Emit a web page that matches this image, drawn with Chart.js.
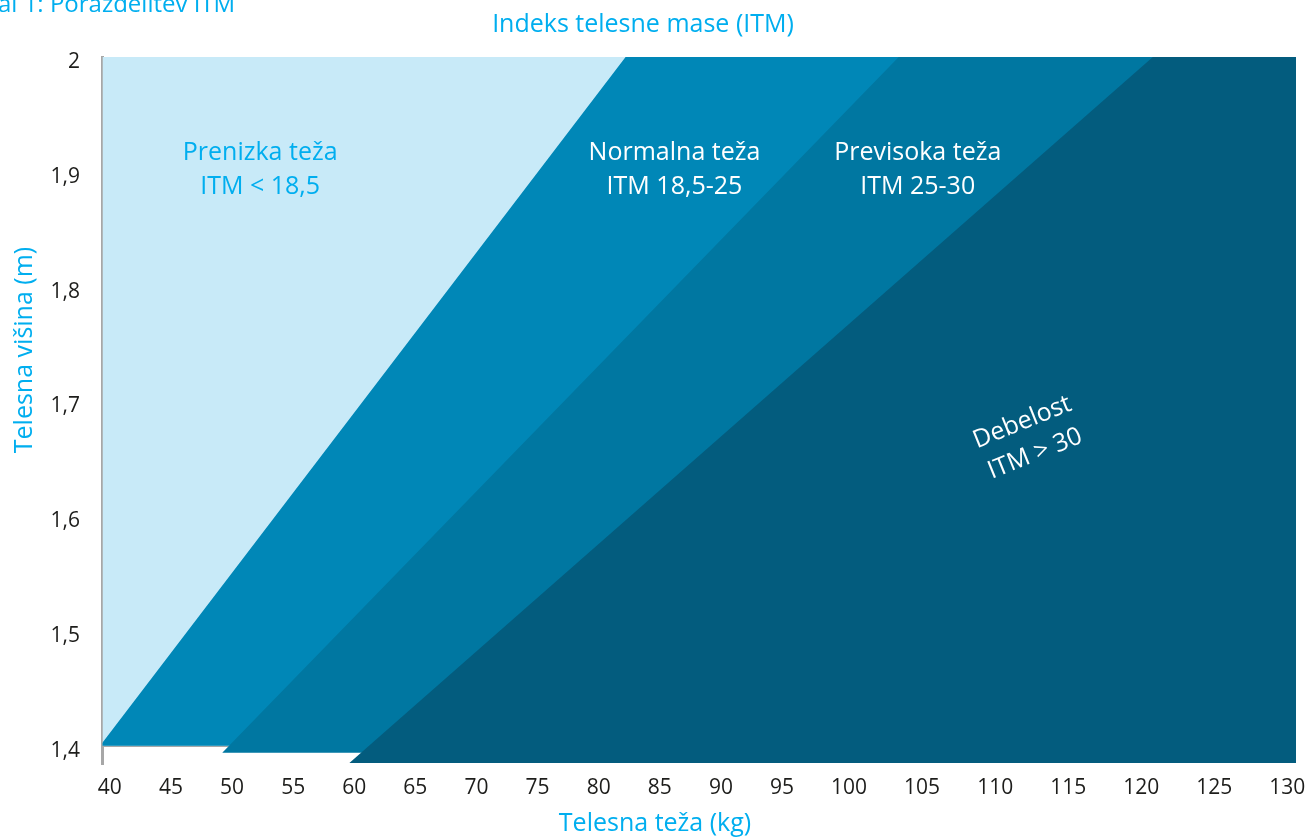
<!DOCTYPE html>
<html>
<head>
<meta charset="utf-8">
<title>Indeks telesne mase (ITM)</title>
<script src="https://cdn.jsdelivr.net/npm/chart.js@4.4.1/dist/chart.umd.min.js"></script>
<style>
    html, body { margin: 0; background: #fff; }
    canvas { display: block; }
</style>
</head>
<body>
<canvas id="itm-chart" width="1306" height="837"></canvas>
<script>
// tick labels
const weightTicks = [40, 45, 50, 55, 60, 65, 70, 75, 80, 85, 90, 95, 100, 105, 110, 115, 120, 125, 130];
const heightTicks = [1.4, 1.5, 1.6, 1.7, 1.8, 1.9, 2];

// zones, from light to dark
const zoneNames = ['Prenizka teža', 'Normalna teža', 'Previsoka teža', 'Debelost'];
const zoneRanges = ['ITM < 18,5', 'ITM 18,5-25', 'ITM 25-30', 'ITM > 30'];

// left edge of every zone: weight (kg) at 2 m, weight at the lower edge, and that lower edge (m)
const zoneTopKg = [39.4, 82.2, 103.4, 120.8];
const zoneBottomKg = [39.4, 39.2, 49.2, 59.6];
const zoneBottomM = [1.4, 1.4, 1.394, 1.385];

const WEIGHT_MIN = 39.4, WEIGHT_MAX = 130.6;
const HEIGHT_MIN = 1.385, HEIGHT_MAX = 2;

const cyan = '#00aeef';
const axisGray = '#a7a7a7';
const zoneColors = ['#c8eaf8', '#0087b7', '#0077a1', '#035c7e'];
const zoneTextColors = [cyan, '#fff', '#fff', '#fff'];

Chart.defaults.font.family = '"Open Sans", sans-serif';

// linear axis whose values past `breakAt` get `stretch` times more room
class StretchedLinearScale extends Chart.LinearScale {
    static id = 'stretchedLinear';
    static defaults = {...Chart.LinearScale.defaults, breakAt: 100, stretch: 1};

    _units(v) {
        const {breakAt, stretch} = this.options;
        return v <= breakAt ? v - this.min : (breakAt - this.min) + (v - breakAt) * stretch;
    }

    getPixelForValue(value) {
        if (value === null) return NaN;
        return this.getPixelForDecimal(this._units(value) / this._units(this.max));
    }

    getValueForPixel(pixel) {
        const {breakAt, stretch} = this.options;
        const units = this.getDecimalForPixel(pixel) * this._units(this.max);
        const left = breakAt - this.min;
        return units <= left ? this.min + units : breakAt + (units - left) / stretch;
    }
}
Chart.register(StretchedLinearScale);

const zoneDatasets = zoneNames.map((name, i) => ({
    label: name,
    data: [
        {x: zoneTopKg[i], y: HEIGHT_MAX},
        {x: WEIGHT_MAX, y: HEIGHT_MAX},
        {x: WEIGHT_MAX, y: zoneBottomM[i]},
        {x: zoneBottomKg[i], y: zoneBottomM[i]},
    ],
    fill: 'shape',
    backgroundColor: zoneColors[i],
    borderColor: 'transparent',
    borderWidth: 0,
    pointRadius: 0,
    pointHoverRadius: 0,
    order: zoneNames.length - i,
}));

// captions, axis titles and zone names
const figureText = {
    id: 'figureText',
    afterDatasetsDraw(chart, args, opts) {
        const {ctx, scales: {x, y}} = chart;
        ctx.save();
        ctx.font = opts.zoneFont;
        ctx.textAlign = 'center';
        ctx.textBaseline = 'middle';
        zoneNames.forEach((name, i) => {
            const [kg, m] = opts.zoneAnchors[i];
            ctx.save();
            ctx.translate(x.getPixelForValue(kg), y.getPixelForValue(m));
            ctx.rotate(opts.zoneRotation[i] * Math.PI / 180);
            ctx.fillStyle = zoneTextColors[i];
            ctx.fillText(name, 0, -opts.zoneLineGap / 2);
            ctx.fillText(zoneRanges[i], 0, opts.zoneLineGap / 2);
            ctx.restore();
        });
        ctx.restore();
    },
    afterDraw(chart, args, opts) {
        const ctx = chart.ctx;
        ctx.save();
        ctx.fillStyle = cyan;
        ctx.textBaseline = 'alphabetic';

        ctx.font = opts.captionFont;
        ctx.textAlign = 'left';
        ctx.fillText(opts.caption, opts.captionAt[0], opts.captionAt[1]);

        ctx.font = opts.titleFont;
        ctx.textAlign = 'center';
        ctx.fillText(opts.title, opts.titleAt[0], opts.titleAt[1]);
        ctx.fillText(opts.xTitle, opts.xTitleAt[0], opts.xTitleAt[1]);

        ctx.translate(opts.yTitleAt[0], opts.yTitleAt[1]);
        ctx.rotate(-Math.PI / 2);
        ctx.fillText(opts.yTitle, 0, 0);
        ctx.restore();
    }
};

new Chart(document.getElementById('itm-chart'), {
    type: 'line',
    data: {datasets: zoneDatasets},
    options: {
        responsive: false,
        animation: false,
        events: [],
        layout: {padding: {top: 57, right: 10, bottom: 0, left: 0}},
        plugins: {
            legend: {display: false},
            tooltip: {enabled: false},
            figureText: {
                captionFont: '24px "Open Sans", sans-serif',
                titleFont: '25px "Open Sans", sans-serif',
                zoneFont: '25px "Open Sans", sans-serif',
                caption: 'al 1: Porazdelitev ITM',
                captionAt: [-2, 12],
                title: 'Indeks telesne mase (ITM)',
                titleAt: [643, 32],
                xTitle: 'Telesna teža (kg)',
                xTitleAt: [655, 831],
                yTitle: 'Telesna višina (m)',
                yTitleAt: [32, 350],
                zoneAnchors: [[52.3, 1.902], [86.2, 1.902], [104.7, 1.902], [112.3, 1.668]],
                zoneRotation: [0, 0, 0, -22],
                zoneLineGap: 34,
            },
        },
        scales: {
            x: {
                type: 'stretchedLinear',
                min: WEIGHT_MIN,
                max: WEIGHT_MAX,
                breakAt: 97.5,
                stretch: 1.195,
                grid: {display: false},
                border: {display: false},
                afterBuildTicks: (scale) => {
                    scale.ticks = weightTicks.map((value) => ({value}));
                },
                afterFit: (scale) => {
                    scale.height = 74;
                    // the end labels may hang past the plot edges
                    scale.paddingLeft = 0;
                    scale.paddingRight = 0;
                },
                ticks: {
                    autoSkip: false,
                    maxRotation: 0,
                    padding: 4,
                    color: '#1d1d1b',
                    font: {size: 21},
                    callback: (v) => String(v),
                },
            },
            y: {
                type: 'linear',
                min: HEIGHT_MIN,
                max: HEIGHT_MAX,
                grid: {
                    drawTicks: false,
                    lineWidth: 3,
                    // only the 1,4 line shows, as the baseline under the zones
                    color: (c) => (c.tick && c.tick.value === 1.4 ? axisGray : 'transparent'),
                },
                border: {display: true, color: axisGray, width: 3},
                afterBuildTicks: (scale) => {
                    scale.ticks = heightTicks.map((value) => ({value}));
                },
                afterFit: (scale) => { scale.width = 102.5; },
                ticks: {
                    autoSkip: false,
                    padding: 22.5,
                    labelOffset: 5,
                    color: '#1d1d1b',
                    font: {size: 21},
                    callback: (v) => String(v).replace('.', ','),
                },
            },
        },
    },
    plugins: [figureText],
});
</script>
</body>
</html>
